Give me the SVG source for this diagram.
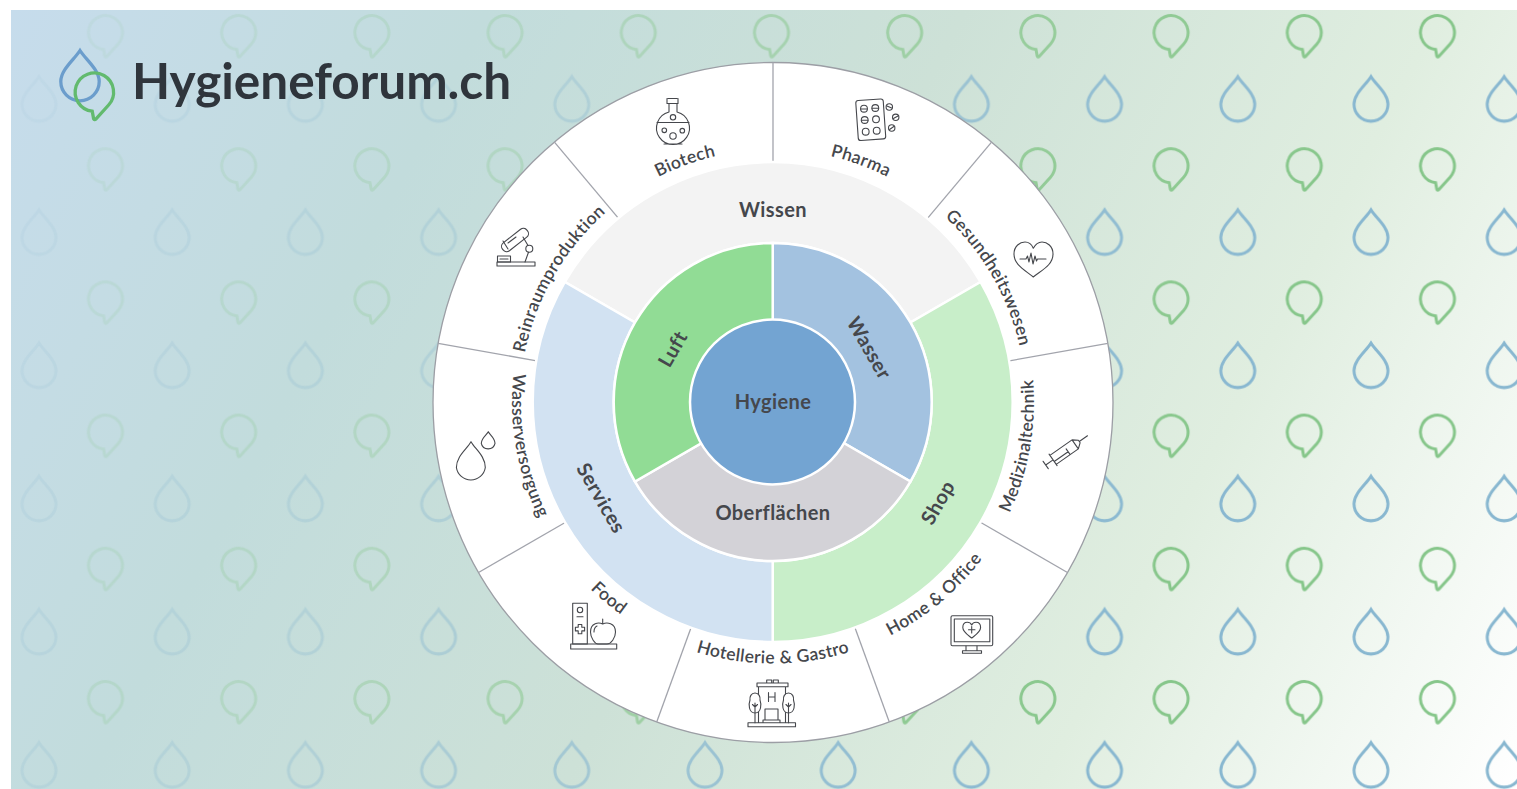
<svg xmlns="http://www.w3.org/2000/svg" width="1517" height="789" viewBox="0 0 1517 789">
<style>
text{font-family:"Lato","Noto Sans",sans-serif;fill:#45474c;}
.in{font-size:20px;font-weight:700;letter-spacing:.4px;text-anchor:middle;dominant-baseline:central;}
.out{font-size:17.5px;font-weight:600;letter-spacing:.35px;text-anchor:middle;}
.ic{fill:none;stroke:#45474c;stroke-width:1.1;stroke-linejoin:round;stroke-linecap:round;}
.div{stroke:#a2a4ac;stroke-width:1.3;}
.sec{stroke:#fff;stroke-width:2.5;}
</style>
<defs>
<linearGradient id="bg" gradientUnits="userSpaceOnUse" x1="11" y1="10" x2="1517" y2="789">
<stop offset="0" stop-color="#c6dcec"/>
<stop offset="0.25" stop-color="#c2dcdc"/>
<stop offset="0.5" stop-color="#cde1d7"/>
<stop offset="0.75" stop-color="#e0eee0"/>
<stop offset="1" stop-color="#ffffff"/>
</linearGradient>
<linearGradient id="fade" gradientUnits="userSpaceOnUse" x1="11" y1="10" x2="1200" y2="500">
<stop offset="0" stop-color="#fff" stop-opacity="0.06"/>
<stop offset="0.4" stop-color="#fff" stop-opacity="0.3"/>
<stop offset="0.8" stop-color="#fff" stop-opacity="0.85"/>
<stop offset="1" stop-color="#fff" stop-opacity="1"/>
</linearGradient>
<mask id="fm" maskUnits="userSpaceOnUse" x="0" y="0" width="1517" height="789"><rect x="11" y="10" width="1506" height="779" fill="url(#fade)"/></mask>
<path id="drop" d="M0 0C5 8 17 17 17 27.5A17 17 0 0 1-17 27.5C-17 17-5 8 0 0Z"/>
<path id="bub" d="M12.5 11.5L1.2 24Q0 25.2-.8 23.6L-2 17A17 17 0 1 1 12.5 11.5Z"/>
<pattern id="pt" patternUnits="userSpaceOnUse" x="-27.6" y="59.7" width="133.2" height="133.2">
<use href="#drop" x="66.6" y="17" fill="none" stroke="#88b7d0" stroke-width="3"/>
<use href="#bub" x="0" y="106" fill="none" stroke="#86c68a" stroke-width="3"/>
<use href="#bub" x="133.2" y="106" fill="none" stroke="#86c68a" stroke-width="3"/>
</pattern>
<path id="s2" d="M-207.85-120A240 240 0 0 1 207.85-120L137.7-79.5A159 159 0 0 0-137.7-79.5Z"/>
<path id="s1" d="M0 0L-137.7-79.5A159 159 0 0 1 137.7-79.5Z"/>
<path id="up" d="M-162.6-193.8A253 253 0 0 1 162.6-193.8"/>
<path id="lo" d="M-167.8 199.9A261 261 0 0 0 167.8 199.9"/>
</defs>
<rect width="1517" height="789" fill="#fff"/>
<g id="background">
<rect x="11" y="10" width="1506" height="779" fill="url(#bg)"/>
<g mask="url(#fm)"><rect x="11" y="10" width="1506" height="779" fill="url(#pt)"/></g>
</g>
<g id="logo">
<use href="#drop" transform="translate(80 50.5) scale(1.13)" fill="none" stroke="#6b9dcc" stroke-width="2.9"/>
<use href="#bub" transform="translate(94.5 92) scale(1.13)" fill="none" stroke="#62ba6e" stroke-width="2.9"/>
<text x="132" y="99" font-size="49.5" font-weight="700" style="fill:#2f353c">Hygieneforum.ch</text>
</g>
<circle id="wheel" cx="773" cy="402.5" r="340" fill="#fff" stroke="#9c9ea5" stroke-width="1.3"/>
<g id="connectors" transform="translate(773 402.5)">
<line class="div" y1="-240" y2="-340"/>
<line class="div" y1="-240" y2="-340" transform="rotate(40)"/>
<line class="div" y1="-240" y2="-340" transform="rotate(80)"/>
<line class="div" y1="-240" y2="-340" transform="rotate(120)"/>
<line class="div" y1="-240" y2="-340" transform="rotate(160)"/>
<line class="div" y1="-240" y2="-340" transform="rotate(200)"/>
<line class="div" y1="-240" y2="-340" transform="rotate(240)"/>
<line class="div" y1="-240" y2="-340" transform="rotate(280)"/>
<line class="div" y1="-240" y2="-340" transform="rotate(320)"/>
</g>
<g id="node-wissen"><use href="#s2" class="sec" fill="#f3f3f3" transform="translate(772.7 402)"/><text class="in" x="773" y="209">Wissen</text></g>
<g id="node-shop"><use href="#s2" class="sec" fill="#c8eec9" transform="translate(772.7 402) rotate(120)"/><text class="in" transform="translate(937 502) rotate(-60)">Shop</text></g>
<g id="node-services"><use href="#s2" class="sec" fill="#d2e2f2" transform="translate(772.7 402) rotate(240)"/><text class="in" transform="translate(602 497.5) rotate(60)">Services</text></g>
<g id="node-wasser"><use href="#s1" class="sec" fill="#a3c2e0" transform="translate(772.7 402) rotate(60)"/><text class="in" transform="translate(870 347.5) rotate(60)">Wasser</text></g>
<g id="node-oberflaechen"><use href="#s1" class="sec" fill="#d3d2d7" transform="translate(772.7 402) rotate(180)"/><text class="in" x="773" y="512">Oberflächen</text></g>
<g id="node-luft"><use href="#s1" class="sec" fill="#91dc95" transform="translate(772.7 402) rotate(300)"/><text class="in" transform="translate(672 348.5) rotate(-60)">Luft</text></g>
<g id="node-hygiene"><circle cx="772.5" cy="402" r="82.5" fill="#73a4d2" stroke="#fff" stroke-width="2.5"/><text class="in" x="773" y="401">Hygiene</text></g>

<g id="node-biotech">
<text class="out" transform="translate(773 402.5) rotate(-20)"><textPath href="#up" startOffset="50%">Biotech</textPath></text>
<g class="ic"><path d="M668 98.5H677M667 98.5V103.5H678V98.5M669 103.5V112A16.5 16.5 0 1 0 677 112V103.5M657 122.5H689M664 144H682"/><circle cx="673" cy="117.3" r="2.7"/><circle cx="664.3" cy="130.3" r="2.3"/><circle cx="682.3" cy="130.7" r="2.3"/><circle cx="673" cy="136" r="3.2"/></g>
</g>
<g id="node-pharma">
<text class="out" transform="translate(773 402.5) rotate(20)"><textPath href="#up" startOffset="50%">Pharma</textPath></text>
<g class="ic"><rect x="-13.7" y="-20" width="27.5" height="40" rx="2.5" transform="translate(870.7 119.7) rotate(-4)"/>
<circle cx="864" cy="108.7" r="3.4"/><circle cx="875.3" cy="108" r="3.4"/><circle cx="864.7" cy="120" r="3.4"/><circle cx="876" cy="119.3" r="3.4"/><circle cx="865.7" cy="131.7" r="3.4"/><circle cx="876.7" cy="130.7" r="3.4"/>
<path d="M860.8 109H867.2M872 108.2H878.6M861.4 120.2H868"/>
<circle cx="889.3" cy="107" r="3.2"/><circle cx="895.7" cy="117.3" r="3.2"/><circle cx="891.7" cy="128" r="3.2"/>
<path d="M887 106L891.6 108M893.4 118.5L898 116M889.6 129.5L893.8 126.5"/></g>
</g>
<g id="node-gesundheitswesen">
<text class="out" transform="translate(773 402.5) rotate(60)"><textPath href="#up" startOffset="50%">Gesundheitswesen</textPath></text>
<g class="ic"><path d="M1033.3 277C1025 270 1014 265 1014 254C1014 246 1020 242 1025 242C1029 242 1032 245 1033.3 248.3C1035 245 1038 242 1042 242C1047 242 1053 246 1053 254C1053 265 1042 270 1033.3 277Z"/><path d="M1020 259H1026L1027.5 256L1029 262L1031 253L1033 264L1035 256L1036.5 261L1037.5 259H1046"/></g>
</g>
<g id="node-medizinaltechnik">
<text class="out" transform="translate(773 402.5) rotate(-80)"><textPath href="#lo" startOffset="50%">Medizinaltechnik</textPath></text>
<g class="ic" transform="translate(1045.7 465) rotate(-35)"><path d="M0-4.5V4.5M0 0H9M9-7V7M9-5.5H36V5.5H9M36-5.5L41-1.5V1.5L36 5.5M41 0H51M9 2H26M26-1.5V5.5"/></g>
</g>
<g id="node-home">
<text class="out" transform="translate(773 402.5) rotate(-40)"><textPath href="#lo" startOffset="50%">Home &amp; Office</textPath></text>
<g class="ic"><rect x="951" y="615.7" width="41.7" height="30" rx="1.5"/><rect x="954.3" y="619" width="35.5" height="22.7"/><path d="M966 646V650.7M977 646V650.7M962.5 650.7H981.5V653.3H962.5Z"/><path d="M971.7 638C968 635 962.8 632 962.8 627.5C962.8 624 965 622.3 967.3 622.3C969.3 622.3 971 623.5 971.7 625C972.4 623.5 974 622.3 976 622.3C978.4 622.3 980.6 624 980.6 627.5C980.6 632 975.4 635 971.7 638Z"/><path d="M971.7 626.5V633M968.5 629.7H975"/></g>
</g>
<g id="node-hotellerie">
<text class="out" transform="translate(773 402.5)"><textPath href="#lo" startOffset="50%">Hotellerie &amp; Gastro</textPath></text>
<g class="ic"><path d="M748 722.7H795.5V726.7H748ZM758.5 686.7V722.7M785.5 686.7V722.7M757 683H788V686.7H757ZM766.7 683V680H771.7V683M773.3 683V680H778.3V683M765 720V709H778V720M763 722.7V720H780V722.7M768.5 692.5V701.5M775 692.5V701.5M768.5 697H775"/><path d="M755 693C751 693 749.5 697 750 700C748.5 704 748.5 713 755 713C761.5 713 761.5 704 760 700C760.5 697 759 693 755 693Z" fill="#fff"/><path d="M788.5 693C784.5 693 783 697 783.5 700C782 704 782 713 788.5 713C795 713 795 704 793.5 700C794 697 792.5 693 788.5 693Z" fill="#fff"/><path d="M755 722.7V703M755 707L752.5 704.5M755 707L757.5 704.5M788.5 722.7V703M788.5 707L786 704.5M788.5 707L791 704.5"/></g>
</g>
<g id="node-food">
<text class="out" transform="translate(773 402.5) rotate(40)"><textPath href="#lo" startOffset="50%">Food</textPath></text>
<g class="ic"><rect x="570.7" y="644" width="46" height="5"/><rect x="572.7" y="603.3" width="14.6" height="40.7"/><circle cx="580" cy="610" r="2.7"/><path d="M577 616.7H583"/><path d="M578.2 624.5H581.8V627.3H584.6V630.9H581.8V633.7H578.2V630.9H575.4V627.3H578.2Z"/><path d="M602.7 624C599 622 590.5 622.5 590.5 632C590.5 638 595 644 598 644H607C611 644 615.5 638 615.5 632C615.5 622.5 606.5 622 602.7 624ZM602.7 624V619M594 632C594 629 595 627 597 626"/></g>
</g>
<g id="node-wasserversorgung">
<text class="out" transform="translate(773 402.5) rotate(80)"><textPath href="#lo" startOffset="50%">Wasserversorgung</textPath></text>
<g class="ic"><path d="M471 441.7C475 449 485.3 456 485.3 467.5A14.6 14.6 0 0 1 456.4 467.5C456.4 456 467 449 471 441.7Z"/><path d="M488.3 431.7C490 435 495 438 495 443.3A7 7 0 0 1 481.3 443.3C481.3 438 486.5 435 488.3 431.7Z"/></g>
</g>
<g id="node-reinraum">
<text class="out" transform="translate(773 402.5) rotate(-60)"><textPath href="#up" startOffset="50%">Reinraumproduktion</textPath></text>
<g class="ic"><rect x="497" y="262" width="38" height="4"/><rect x="497.5" y="256" width="13" height="6"/><path d="M500 259H508"/><rect x="-15.5" y="-5" width="31" height="10" rx="4.5" transform="translate(515 240) rotate(-38)"/><path d="M508 243L516 237"/><path d="M503 241L508 249"/><circle cx="529.3" cy="248.7" r="3.5"/><path d="M528.5 252.2L525 262M523 237L528 245.5"/></g>
</g>
</svg>
